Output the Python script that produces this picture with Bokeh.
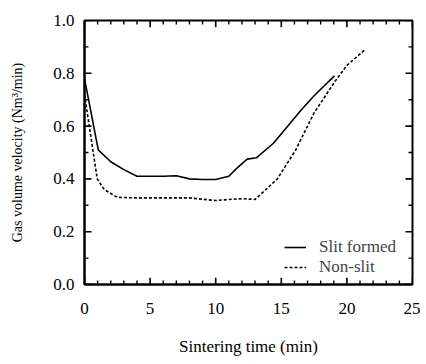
from bokeh.plotting import figure
from bokeh.models import FixedTicker, Range1d, Legend, LegendItem, CustomJSTickFormatter
from bokeh.embed import file_html
from bokeh.resources import INLINE

slit_t = [0, 1.05, 2, 3, 4, 5, 6, 7, 8, 9, 10, 11, 11.6, 12.4, 13.1, 14.4, 15.5, 16.5, 17.5, 19.05]
slit_v = [0.78, 0.51, 0.465, 0.435, 0.41, 0.41, 0.41, 0.412, 0.40, 0.398, 0.398, 0.41, 0.44, 0.475, 0.48, 0.535, 0.60, 0.66, 0.715, 0.79]

non_t = [0, 0.97, 1.5, 2.5, 4, 6, 8, 10, 11, 12, 13, 14.7, 16.1, 17.5, 19.1, 20.0, 21.4]
non_v = [0.72, 0.40, 0.36, 0.33, 0.328, 0.328, 0.328, 0.318, 0.322, 0.325, 0.322, 0.40, 0.51, 0.65, 0.77, 0.83, 0.89]

x_ticks = [0, 5, 10, 15, 20, 25]
y_ticks = [0.0, 0.2, 0.4, 0.6, 0.8, 1.0]
x_minor = list(range(0, 26))
y_minor = [i / 10 for i in range(0, 11)]
x_lim = (0, 25)
y_lim = (0.0, 1.0)

FONT = "Liberation Serif"

W, H = 420, 358
BL, BR, BT, BB = 84, 8, 20, 69

p = figure(width=W, height=H, output_backend="svg", toolbar_location=None,
           x_range=Range1d(*x_lim), y_range=Range1d(*y_lim),
           min_border_left=BL, min_border_right=BR, min_border_top=BT, min_border_bottom=BB)
p.grid.visible = False
p.outline_line_color = "black"
p.outline_line_width = 2
p.background_fill_color = "white"
p.border_fill_color = "white"

def style(ax):
    ax.axis_line_color = "black"
    ax.axis_line_width = 2
    ax.major_tick_in = 0
    ax.major_tick_out = 0
    ax.minor_tick_in = 0
    ax.minor_tick_out = 0
    ax.major_label_text_font = FONT
    ax.major_label_text_font_size = "17px"
    ax.major_label_text_color = "black"
    ax.axis_label_text_font = FONT
    ax.axis_label_text_font_style = "normal"
    ax.axis_label_text_color = "black"

xa = p.xaxis[0]
xa.ticker = FixedTicker(ticks=x_ticks, minor_ticks=x_minor)
xa.axis_label = "Sintering time (min)"
style(xa)
xa.axis_label_text_font_size = "17px"
xa.major_label_standoff = 18
xa.axis_label_standoff = 20

ya = p.yaxis[0]
ya.ticker = FixedTicker(ticks=y_ticks, minor_ticks=y_minor)
ya.axis_label = "Gas volume velocity (Nm\u00b3/min)"
ya.formatter = CustomJSTickFormatter(code="return tick.toFixed(1);")
style(ya)
ya.axis_label_text_font_size = "14px"
ya.major_label_standoff = 10
ya.axis_label_standoff = 25

# inward tick marks on all four sides, placed at the tick values
px_x = (x_lim[1] - x_lim[0]) / (W - BL - BR)
px_y = (y_lim[1] - y_lim[0]) / (H - BT - BB)
xmin_only = [t for t in x_minor if t not in x_ticks]
ymin_only = [t for t in y_minor if round(t, 3) not in [round(v, 3) for v in y_ticks]]

def xt(vals, n, w):
    p.segment(x0=vals, y0=[y_lim[0]] * len(vals), x1=vals, y1=[y_lim[0] + n * px_y] * len(vals),
              line_color="black", line_width=w)
    p.segment(x0=vals, y0=[y_lim[1]] * len(vals), x1=vals, y1=[y_lim[1] - n * px_y] * len(vals),
              line_color="black", line_width=w)

def yt(vals, n, w):
    p.segment(x0=[x_lim[0]] * len(vals), y0=vals, x1=[x_lim[0] + n * px_x] * len(vals), y1=vals,
              line_color="black", line_width=w)
    p.segment(x0=[x_lim[1]] * len(vals), y0=vals, x1=[x_lim[1] - n * px_x] * len(vals), y1=vals,
              line_color="black", line_width=w)

xt(x_ticks, 7, 1.6)
xt(xmin_only, 4, 1.4)
yt(y_ticks, 7, 1.6)
yt(ymin_only, 4, 1.4)

r1 = p.line(slit_t, slit_v, line_color="black", line_width=1.6)
r2 = p.line(non_t, non_v, line_color="black", line_width=1.6, line_dash="3 2")

leg = Legend(items=[LegendItem(label="Slit formed", renderers=[r1]),
                    LegendItem(label="Non-slit", renderers=[r2])],
             location=(200, 7))
leg.border_line_color = None
leg.background_fill_alpha = 0
leg.label_text_font = FONT
leg.label_text_font_size = "17px"
leg.label_height = 16
leg.glyph_height = 16
leg.glyph_width = 22
leg.label_standoff = 13
leg.spacing = 0
leg.margin = 0
leg.padding = 4
p.add_layout(leg)

open("out.html", "w").write(file_html(p, INLINE))
